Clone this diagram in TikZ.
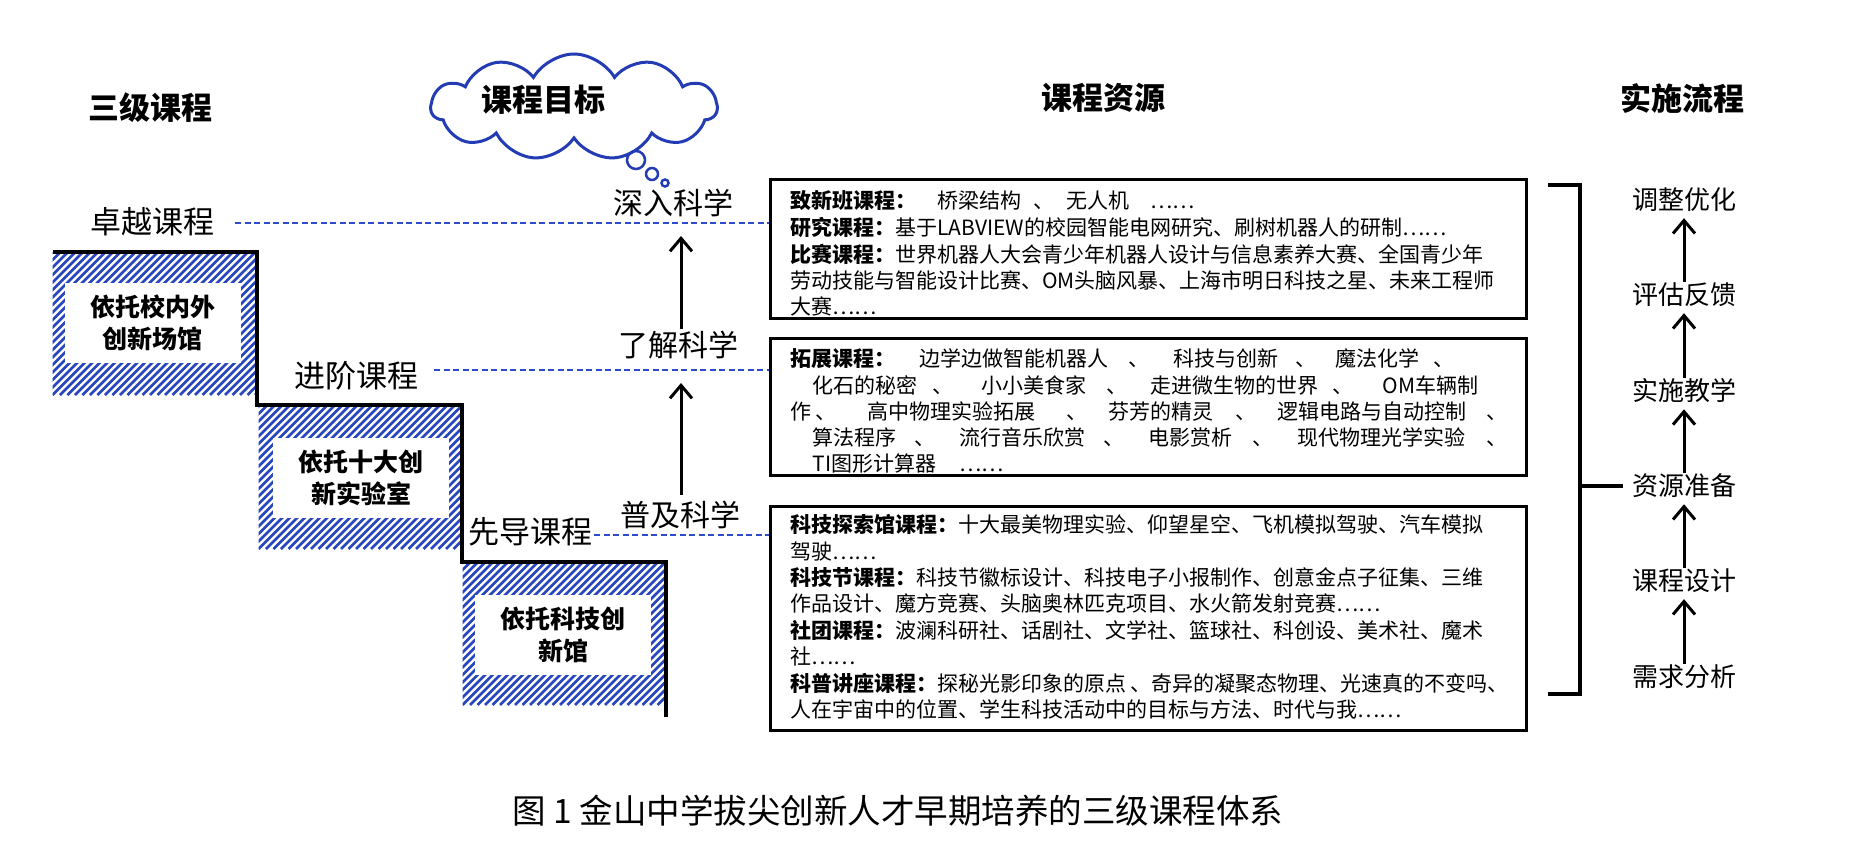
\documentclass[tikz,border=0pt]{standalone}
\usepackage{fontspec}
\setmainfont{Noto Sans CJK SC}
\usetikzlibrary{shapes.symbols,arrows.meta}
\definecolor{hblue}{RGB}{40,70,190}
\definecolor{cblue}{RGB}{35,60,180}
\definecolor{dblue}{RGB}{45,75,205}
\newcommand{\seg}[2]{\rlap{\hspace*{#1pt}#2}}
\begin{document}
\begin{tikzpicture}[x=1pt,y=-1pt,
  title/.style={font=\fontsize{31}{31}\selectfont\bfseries, inner sep=0pt},
  level/.style={font=\fontsize{31}{31}\selectfont, inner sep=0pt},
  goal/.style={font=\fontsize{30}{30}\selectfont, inner sep=0pt},
  flow/.style={font=\fontsize{26}{26}\selectfont, inner sep=0pt},
  hatchbox/.style={inner sep=0pt, minimum width=203pt, minimum height=142pt,
    path picture={\foreach \k in {-24,...,32}{\draw[hblue,line width=2.6pt] ([xshift=\k*7.5pt]path picture bounding box.south west) -- ++(240,-240);}}},
  inbox/.style={fill=white, inner sep=0pt, align=center, minimum width=176pt, minimum height=80pt,
    font=\fontsize{25}{32}\selectfont\bfseries},
  resbox/.style={draw, line width=3pt, inner sep=0pt, minimum width=756pt},
  restext/.style={anchor=north west, inner sep=0pt, align=left, font=\fontsize{21}{25}\selectfont},
  dline/.style={dblue, line width=2.5pt, dash pattern=on 6pt off 3.5pt},
  arr/.style={line width=3pt, -{Straight Barb[length=13pt,width=22pt,line width=3pt]}},
  bubble/.style={circle, draw=cblue, line width=2.5pt, inner sep=0pt},
  brk/.style={line width=4pt}
]
\useasboundingbox[fill=white] (0,0) rectangle (1869,845);

% titles
\node[title] (t1) at (150,108) {三级课程};
\node[title] (t2) at (1103,98) {课程资源};
\node[title] (t3) at (1682,98) {实施流程};

% cloud
\node[cloud, cloud puffs=11, cloud puff arc=120, aspect=2.4, draw=cblue, line width=3pt,
  minimum width=286pt, minimum height=106pt, inner sep=0pt] (cloud) at (574,107) {};
\node[title] (goaltitle) at (543,100) {课程目标};
\node[bubble, minimum size=18pt] (b1) at (636,160) {};
\node[bubble, minimum size=12pt] (b2) at (652,174) {};
\node[bubble, minimum size=7pt] (b3) at (665,183) {};

% hatched boxes
\node[hatchbox] (h1) at (154,324) {};
\node[hatchbox] (h2) at (360,478) {};
\node[hatchbox] (h3) at (564,634) {};
\node[inbox] (i1) at (152.5,322.5) {依托校内外\\创新场馆};
\node[inbox] (i2) at (361,478) {依托十大创\\新实验室};
\node[inbox] (i3) at (563,635) {依托科技创\\新馆};

% staircase
\draw[line width=3.5pt] (53,252) -- (257,252) -- (257,405) -- (462,405) -- (462,562) -- (666,562) -- (666,717);

% level labels
\node[level] (zy) at (152,222) {卓越课程};
\node[level] (jj) at (356,376) {进阶课程};
\node[level] (xd) at (530,532) {先导课程};

% goals
\node[goal] (sr) at (673,203) {深入科学};
\node[goal] (lj) at (678,345) {了解科学};
\node[goal] (pj) at (680,515) {普及科学};

% resource boxes
\node[resbox, minimum height=138pt] (box1) at (1148,249) {};
\node[resbox, minimum height=137pt] (box2) at (1148,406.5) {};
\node[resbox, minimum height=224pt] (box3) at (1148,618) {};

\node[restext] (r1) at (790,190.5) {%
\strut{}\seg{0}{\textbf{致新班课程：}}\seg{147}{桥梁结构}\seg{243}{、}\seg{276}{无人机}\seg{360}{……}\\
\strut{}\textbf{研究课程：}基于LABVIEW的校园智能电网研究、刷树机器人的研制……\\
\strut{}\textbf{比赛课程：}世界机器人大会青少年机器人设计与信息素养大赛、全国青少年\\
\strut{}劳动技能与智能设计比赛、OM头脑风暴、上海市明日科技之星、未来工程师\\
\strut{}大赛……};

\node[restext] (r2) at (790,348.5) {%
\strut{}\seg{0}{\textbf{拓展课程：}}\seg{129}{边学边做智能机器人}\seg{338}{、}\seg{383}{科技与创新}\seg{505}{、}\seg{545}{魔法化学}\seg{643}{、}\\
\strut{}\seg{22}{化石的秘密}\seg{142}{、}\seg{191}{小小美食家}\seg{316}{、}\seg{360}{走进微生物的世界}\seg{542}{、}\seg{592}{OM车辆制}\\
\strut{}\seg{0}{作}\seg{25}{、}\seg{77}{高中物理实验拓展}\seg{276}{、}\seg{318}{芬芳的精灵}\seg{445}{、}\seg{487}{逻辑电路与自动控制}\seg{696}{、}\\
\strut{}\seg{22}{算法程序}\seg{124}{、}\seg{169}{流行音乐欣赏}\seg{313}{、}\seg{358}{电影赏析}\seg{462}{、}\seg{507}{现代物理光学实验}\seg{696}{、}\\
\strut{}\seg{22}{TI图形计算器}\seg{169}{……}};

\node[restext] (r3) at (790,514.5) {%
\strut{}\textbf{科技探索馆课程：}十大最美物理实验、仰望星空、飞机模拟驾驶、汽车模拟\\
\strut{}驾驶……\\
\strut{}\textbf{科技节课程：}科技节徽标设计、科技电子小报制作、创意金点子征集、三维\\
\strut{}作品设计、魔方竞赛、头脑奥林匹克项目、水火箭发射竞赛……\\
\strut{}\textbf{社团课程：}波澜科研社、话剧社、文学社、篮球社、科创设、美术社、魔术\\
\strut{}社……\\
\strut{}\textbf{科普讲座课程：}探秘光影印象的原点 、奇异的凝聚态物理、光速真的不变吗、\\
\strut{}人在宇宙中的位置、学生科技活动中的目标与方法、时代与我……};

% dashed level lines
\coordinate (d1) at (235,223);
\coordinate (d2) at (434,370);
\coordinate (d3) at (594,535);
\draw[dline] (d1) -- (d1 -| box1.west);
\draw[dline] (d2) -- (d2 -| box2.west);
\draw[dline] (d3) -- (d3 -| box3.west);

% goal arrows
\coordinate (a1) at (681,236);
\coordinate (a2) at (681,383);
\draw[arr, shorten <=2pt] (lj.north -| a1) -- (a1);
\draw[arr, shorten <=6pt] (pj.north -| a2) -- (a2);

% flow
\node[flow] (ftz) at (1684,200) {调整优化};
\node[flow] (fpg) at (1684,295) {评估反馈};
\node[flow] (fss) at (1684,391) {实施教学};
\node[flow] (fzy) at (1684,486) {资源准备};
\node[flow] (fkc) at (1684,581) {课程设计};
\node[flow] (fxq) at (1684,677) {需求分析};
\foreach \a/\b in {fxq/fkc,fkc/fzy,fzy/fss,fss/fpg,fpg/ftz}
  \draw[arr, shorten <=1pt, shorten >=6pt] (\a.north) -- (\b.south);

% bracket
\coordinate (bt) at (1548,185);
\coordinate (bv) at (1580,185);
\coordinate (bw) at (1580,694);
\coordinate (bb) at (1548,694);
\draw[brk] (bt) -- (bv) -- (bw) -- (bb);
\draw[brk] (bv |- fzy.west) -- ([xshift=-9pt]fzy.west);

% caption
\node[inner sep=0pt, font=\fontsize{33.5}{34}\selectfont] (cap) at (898,811) {图 1 金山中学拔尖创新人才早期培养的三级课程体系};
\end{tikzpicture}
\end{document}
